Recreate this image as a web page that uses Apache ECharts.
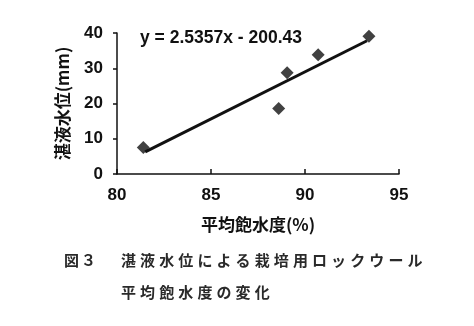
<!DOCTYPE html>
<html><head><meta charset="utf-8">
<script src="https://cdn.jsdelivr.net/npm/echarts@6/dist/echarts.min.js"></script>
<style>html,body{margin:0;padding:0;background:#fff}#c{width:474px;height:326px}</style>
</head><body><div id="c"></div>
<script>
const saturation = [81.4, 88.6, 89.05, 90.7, 93.4];
const waterLevel = [7.5, 18.6, 28.7, 33.8, 39.1];
const trendX = [81.5, 93.3];
const trendY = [6.3, 37.8];
const xTicks = [80, 85, 90, 95];
const yTicks = [0, 10, 20, 30, 40];
const equation = 'y = 2.5357x - 200.43';
const yTitle = '湛液水位(mm)';
const xTitle = '平均飽水度(%)';
const caption1 = '湛液水位による栽培用ロックウール';
const caption2 = '平均飽水度の変化';
const figLabel = '図３';

const chart = echarts.init(document.getElementById('c'));
const jp = '"Noto Sans CJK JP", sans-serif';
function spaced(str, x, y, step, size) {
  return str.split('').map((ch, i) => ({
    type: 'text', left: x + i * step, top: y,
    style: { text: ch, font: `bold ${size}px ${jp}`, fill: '#2a2a2a' }
  }));
}
chart.setOption({
  animation: false,
  grid: { left: 117, right: 75, top: 33, bottom: 152 },
  xAxis: {
    type: 'value', min: 80, max: 95, interval: 5,
    axisLine: { lineStyle: { color: '#111', width: 1.5 } },
    axisTick: { inside: true, length: 5, lineStyle: { color: '#111', width: 1.5 } },
    splitLine: { show: false },
    axisLabel: { margin: 13, color: '#111', fontSize: 17, fontWeight: 'bold', fontFamily: 'Liberation Sans, Arial',
      formatter: v => xTicks.includes(v) ? String(v) : '' },
    name: xTitle, nameLocation: 'middle', nameGap: 42,
    nameTextStyle: { color: '#111', fontSize: 17, fontWeight: 'bold', fontFamily: jp }
  },
  yAxis: {
    type: 'value', min: 0, max: 40, interval: 10,
    axisLine: { show: true, lineStyle: { color: '#111', width: 1.5 } },
    axisTick: { show: true, inside: false, length: 4, lineStyle: { color: '#111', width: 1.5 } },
    splitLine: { show: false },
    axisLabel: { margin: 14, color: '#111', fontSize: 17, fontWeight: 'bold', fontFamily: 'Liberation Sans, Arial',
      formatter: v => yTicks.includes(v) ? String(v) : '' },
    name: yTitle, nameLocation: 'middle', nameGap: 46, nameRotate: 90,
    nameTextStyle: { color: '#111', fontSize: 17, fontWeight: 'bold', fontFamily: jp }
  },
  series: [
    { type: 'scatter', symbol: 'diamond', symbolSize: 13, itemStyle: { color: '#111' },
      data: saturation.map((x, i) => [x, waterLevel[i]]), z: 3 },
    { type: 'line', symbol: 'none', lineStyle: { color: '#111', width: 3 },
      data: trendX.map((x, i) => [x, trendY[i]]) }
  ],
  graphic: [
    { type: 'text', left: 140, top: 29,
      style: { text: equation, font: 'bold 17.5px "Liberation Sans", Arial', fill: '#111' } },
    ...spaced(figLabel, 64, 253, 17, 15),
    ...spaced(caption1, 121, 253, 19.1, 15),
    ...spaced(caption2, 121, 285, 19.1, 15)
  ]
});
</script></body></html>
